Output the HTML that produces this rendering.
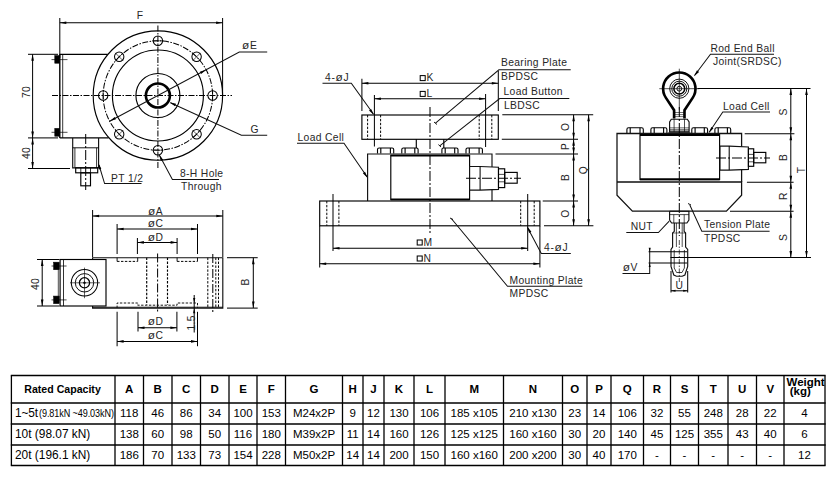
<!DOCTYPE html>
<html><head><meta charset="utf-8"><title>Load cell dimensions</title>
<style>
html,body{margin:0;padding:0;background:#fff}
body{width:836px;height:479px;position:relative;overflow:hidden;font-family:"Liberation Sans",sans-serif}
svg{position:absolute;left:0;top:0}
svg text{font-family:"Liberation Sans",sans-serif}
.c{position:absolute;text-align:center;font-size:11.5px;color:#000;white-space:nowrap;box-sizing:border-box;margin-top:-0.4px}
.c span{display:inline-block}
.h{font-weight:bold;font-size:11.5px;margin-top:0.2px}
.l{text-align:left;padding-left:3.6px;font-size:11.9px}
.w{line-height:8.2px !important;padding-top:2.8px;padding-left:2.5px;font-size:11.5px;text-align:left}
.r1{letter-spacing:-0.1px}
.hs{transform:scaleX(0.92);position:relative;left:-1.1px}
.sm{font-size:10.6px;transform:scaleX(0.855);transform-origin:0 50%;margin-left:0.6px}
</style></head><body>
<svg width="836" height="479" viewBox="0 0 836 479">
<circle cx="157.9" cy="95.5" r="64.7" fill="none" stroke="#000" stroke-width="1.15"/>
<circle cx="157.9" cy="95.5" r="45.5" fill="none" stroke="#000" stroke-width="1.15"/>
<circle cx="157.9" cy="95.5" r="54.7" fill="none" stroke="#000" stroke-width="1.01" stroke-dasharray="6 1.5 1.5 1.5"/>
<circle cx="157.9" cy="95.5" r="22" fill="none" stroke="#000" stroke-width="1.15"/>
<circle cx="157.9" cy="95.5" r="12" fill="none" stroke="#000" stroke-width="2.64"/>
<circle cx="157.9" cy="150.2" r="4.7" fill="none" stroke="#000" stroke-width="1.03"/>
<line x1="163.5" y1="150.2" x2="152.3" y2="150.2" stroke="#000" stroke-width="0.63"/>
<circle cx="119.2" cy="134.2" r="4.7" fill="none" stroke="#000" stroke-width="1.03"/>
<line x1="123.2" y1="138.1" x2="115.3" y2="130.2" stroke="#000" stroke-width="0.63"/>
<line x1="123.2" y1="130.2" x2="115.3" y2="138.1" stroke="#000" stroke-width="0.63"/>
<circle cx="103.2" cy="95.5" r="4.7" fill="none" stroke="#000" stroke-width="1.03"/>
<line x1="103.2" y1="101.1" x2="103.2" y2="89.9" stroke="#000" stroke-width="0.63"/>
<circle cx="119.2" cy="56.8" r="4.7" fill="none" stroke="#000" stroke-width="1.03"/>
<line x1="115.3" y1="60.8" x2="123.2" y2="52.9" stroke="#000" stroke-width="0.63"/>
<line x1="123.2" y1="60.8" x2="115.3" y2="52.9" stroke="#000" stroke-width="0.63"/>
<circle cx="157.9" cy="40.8" r="4.7" fill="none" stroke="#000" stroke-width="1.03"/>
<line x1="152.3" y1="40.8" x2="163.5" y2="40.8" stroke="#000" stroke-width="0.63"/>
<circle cx="196.6" cy="56.8" r="4.7" fill="none" stroke="#000" stroke-width="1.03"/>
<line x1="192.6" y1="52.9" x2="200.5" y2="60.8" stroke="#000" stroke-width="0.63"/>
<line x1="192.6" y1="60.8" x2="200.5" y2="52.9" stroke="#000" stroke-width="0.63"/>
<circle cx="212.6" cy="95.5" r="4.7" fill="none" stroke="#000" stroke-width="1.03"/>
<line x1="212.6" y1="89.9" x2="212.6" y2="101.1" stroke="#000" stroke-width="0.63"/>
<circle cx="196.6" cy="134.2" r="4.7" fill="none" stroke="#000" stroke-width="1.03"/>
<line x1="200.5" y1="130.2" x2="192.6" y2="138.1" stroke="#000" stroke-width="0.63"/>
<line x1="192.6" y1="130.2" x2="200.5" y2="138.1" stroke="#000" stroke-width="0.63"/>
<line x1="52" y1="95.5" x2="232" y2="95.5" stroke="#000" stroke-width="1.01" stroke-dasharray="6 1.5 1.5 1.5"/>
<line x1="157.9" y1="25.5" x2="157.9" y2="169" stroke="#000" stroke-width="1.01" stroke-dasharray="6 1.5 1.5 1.5"/>
<line x1="59.8" y1="18" x2="59.8" y2="58" stroke="#000" stroke-width="1.01"/>
<line x1="222.6" y1="18" x2="222.6" y2="95" stroke="#000" stroke-width="1.01"/>
<line x1="59.8" y1="22.8" x2="222.6" y2="22.8" stroke="#000" stroke-width="1.01"/>
<polygon points="59.80,22.80 66.30,21.50 66.30,24.10" fill="#000"/>
<polygon points="222.60,22.80 216.10,24.10 216.10,21.50" fill="#000"/>
<text x="140" y="19" font-size="10.3" text-anchor="middle" letter-spacing="0.35" font-weight="normal" fill="#262626">F</text>
<line x1="59.8" y1="54.3" x2="107.6" y2="54.3" stroke="#000" stroke-width="1.15"/>
<line x1="59.8" y1="137.9" x2="108.6" y2="137.9" stroke="#000" stroke-width="1.15"/>
<line x1="59.8" y1="54.3" x2="59.8" y2="137.9" stroke="#000" stroke-width="1.38"/>
<line x1="62.7" y1="54.3" x2="62.7" y2="137.9" stroke="#000" stroke-width="0.80"/>
<rect x="54.8" y="55.6" width="4.600000000000001" height="7.600000000000001" fill="#000" stroke="#000" stroke-width="0.57"/>
<rect x="54.8" y="128.4" width="4.600000000000001" height="7.799999999999983" fill="#000" stroke="#000" stroke-width="0.57"/>
<line x1="51.5" y1="59.6" x2="67.5" y2="59.6" stroke="#000" stroke-width="0.69"/>
<line x1="51.5" y1="132.3" x2="67.5" y2="132.3" stroke="#000" stroke-width="0.69"/>
<line x1="28" y1="54.3" x2="58" y2="54.3" stroke="#000" stroke-width="1.01"/>
<line x1="28" y1="137.9" x2="58" y2="137.9" stroke="#000" stroke-width="1.01"/>
<line x1="28" y1="168.4" x2="70" y2="168.4" stroke="#000" stroke-width="1.01"/>
<line x1="32.6" y1="54.3" x2="32.6" y2="137.9" stroke="#000" stroke-width="1.01"/>
<polygon points="32.60,54.30 33.90,60.80 31.30,60.80" fill="#000"/>
<polygon points="32.60,137.90 31.30,131.40 33.90,131.40" fill="#000"/>
<line x1="32.6" y1="137.9" x2="32.6" y2="168.4" stroke="#000" stroke-width="1.01"/>
<polygon points="32.60,137.90 33.90,144.40 31.30,144.40" fill="#000"/>
<polygon points="32.60,168.40 31.30,161.90 33.90,161.90" fill="#000"/>
<text x="30" y="92" font-size="10.3" text-anchor="middle" letter-spacing="0.35" font-weight="normal" fill="#262626" transform="rotate(-90 30 92)">70</text>
<text x="30" y="153" font-size="10.3" text-anchor="middle" letter-spacing="0.35" font-weight="normal" fill="#262626" transform="rotate(-90 30 153)">40</text>
<polyline points="72.7,137.9 72.7,167.8 98.6,167.8 98.6,137.9" fill="none" stroke="#111" stroke-width="1.15"/>
<line x1="72.7" y1="147.8" x2="98.6" y2="147.8" stroke="#000" stroke-width="0.92"/>
<line x1="74.9" y1="147.8" x2="74.9" y2="167.8" stroke="#000" stroke-width="0.80"/>
<line x1="96.6" y1="147.8" x2="96.6" y2="167.8" stroke="#000" stroke-width="0.80"/>
<rect x="75.7" y="167.8" width="22.0" height="5.0" fill="none" stroke="#000" stroke-width="1.15"/>
<line x1="80.8" y1="167.8" x2="80.8" y2="172.8" stroke="#000" stroke-width="0.80"/>
<line x1="90.5" y1="167.8" x2="90.5" y2="172.8" stroke="#000" stroke-width="0.80"/>
<rect x="80.8" y="172.8" width="9.700000000000003" height="13.0" fill="none" stroke="#000" stroke-width="1.15"/>
<line x1="85.7" y1="134" x2="85.7" y2="190" stroke="#000" stroke-width="1.01" stroke-dasharray="10 2 2 2"/>
<polyline points="99,165 104.6,183.6 141.5,183.6" fill="none" stroke="#111" stroke-width="1.01"/>
<polygon points="98.50,163.40 101.31,168.84 99.00,169.50" fill="#000"/>
<text x="111" y="181.5" font-size="10.3" text-anchor="start" letter-spacing="0.35" font-weight="normal" fill="#262626">PT 1/2</text>
<polyline points="109.6,121.2 239.3,52.1 267.2,52.1" fill="none" stroke="#111" stroke-width="1.01"/>
<polygon points="206.20,69.80 201.08,74.01 199.85,71.71" fill="#000"/>
<polygon points="109.60,121.20 114.72,116.99 115.95,119.29" fill="#000"/>
<text x="242" y="49.4" font-size="10.3" text-anchor="start" letter-spacing="0.35" font-weight="normal" fill="#262626"><tspan font-size="11.8" letter-spacing="0.7">ø</tspan>E</text>
<polyline points="170.4,102.7 241.4,135.3 267.2,135.3" fill="none" stroke="#111" stroke-width="1.01"/>
<polygon points="169.60,102.30 176.05,103.84 174.96,106.20" fill="#000"/>
<text x="250.6" y="132.8" font-size="10.3" text-anchor="start" letter-spacing="0.35" font-weight="normal" fill="#262626">G</text>
<polyline points="159.3,155 172.4,179.6 219,179.6" fill="none" stroke="#111" stroke-width="1.01"/>
<polygon points="159.00,154.60 163.20,159.73 160.90,160.95" fill="#000"/>
<text x="180" y="177.4" font-size="10.3" text-anchor="start" letter-spacing="0.35" font-weight="normal" fill="#262626">8-H  Hole</text>
<text x="181" y="189.5" font-size="10.3" text-anchor="start" letter-spacing="0.35" font-weight="normal" fill="#262626">Through</text>
<line x1="92.6" y1="210" x2="92.6" y2="257" stroke="#000" stroke-width="1.01"/>
<line x1="222.8" y1="210" x2="222.8" y2="257" stroke="#000" stroke-width="1.01"/>
<line x1="92.6" y1="216" x2="222.8" y2="216" stroke="#000" stroke-width="1.01"/>
<polygon points="92.60,216.00 99.10,214.70 99.10,217.30" fill="#000"/>
<polygon points="222.80,216.00 216.30,217.30 216.30,214.70" fill="#000"/>
<text x="155.5" y="214.6" font-size="10.3" text-anchor="middle" letter-spacing="0.35" font-weight="normal" fill="#262626"><tspan font-size="11.8" letter-spacing="0.7">ø</tspan>A</text>
<line x1="117.1" y1="224" x2="117.1" y2="254" stroke="#000" stroke-width="1.01"/>
<line x1="197.5" y1="224" x2="197.5" y2="254" stroke="#000" stroke-width="1.01"/>
<line x1="117.1" y1="229" x2="197.5" y2="229" stroke="#000" stroke-width="1.01"/>
<polygon points="117.10,229.00 123.60,227.70 123.60,230.30" fill="#000"/>
<polygon points="197.50,229.00 191.00,230.30 191.00,227.70" fill="#000"/>
<text x="155.5" y="227.4" font-size="10.3" text-anchor="middle" letter-spacing="0.35" font-weight="normal" fill="#262626"><tspan font-size="11.8" letter-spacing="0.7">ø</tspan>C</text>
<line x1="137.4" y1="238" x2="137.4" y2="254" stroke="#000" stroke-width="1.01"/>
<line x1="177.1" y1="238" x2="177.1" y2="254" stroke="#000" stroke-width="1.01"/>
<line x1="137.4" y1="242.4" x2="177.1" y2="242.4" stroke="#000" stroke-width="1.01"/>
<polygon points="137.40,242.40 143.90,241.10 143.90,243.70" fill="#000"/>
<polygon points="177.10,242.40 170.60,243.70 170.60,241.10" fill="#000"/>
<text x="155.5" y="240.8" font-size="10.3" text-anchor="middle" letter-spacing="0.35" font-weight="normal" fill="#262626"><tspan font-size="11.8" letter-spacing="0.7">ø</tspan>D</text>
<polyline points="92.6,259.5 92.6,257.7 222.8,257.7 222.8,308.2 92.6,308.2 92.6,306" fill="none" stroke="#111" stroke-width="1.15"/>
<rect x="60.1" y="259.5" width="45.9" height="46.5" fill="none" stroke="#000" stroke-width="1.15"/>
<line x1="63.5" y1="259.5" x2="63.5" y2="306" stroke="#000" stroke-width="0.80"/>
<line x1="92.6" y1="307.2" x2="222.9" y2="307.2" stroke="#000" stroke-width="1.15"/>
<line x1="58.3" y1="268" x2="58.3" y2="297" stroke="#000" stroke-width="0.69"/>
<circle cx="84.5" cy="282.8" r="13.2" fill="none" stroke="#000" stroke-width="1.03"/>
<circle cx="84.5" cy="282.8" r="9.2" fill="none" stroke="#000" stroke-width="0.92"/>
<circle cx="84.5" cy="282.8" r="5.1" fill="none" stroke="#000" stroke-width="1.26"/>
<circle cx="84.5" cy="282.8" r="0.9" fill="#000" stroke="#000" stroke-width="0.80"/>
<line x1="70" y1="282.8" x2="100" y2="282.8" stroke="#000" stroke-width="0.63"/>
<line x1="84.5" y1="267.6" x2="84.5" y2="298.2" stroke="#000" stroke-width="0.63"/>
<rect x="53.7" y="262.2" width="5.5" height="7.5" fill="#000" stroke="#000" stroke-width="0.57"/>
<rect x="53.7" y="296.1" width="5.5" height="7.5" fill="#000" stroke="#000" stroke-width="0.57"/>
<line x1="51.5" y1="266" x2="66.6" y2="266" stroke="#000" stroke-width="0.69"/>
<line x1="51.5" y1="299.9" x2="66.6" y2="299.9" stroke="#000" stroke-width="0.69"/>
<line x1="37" y1="259.5" x2="59.5" y2="259.5" stroke="#000" stroke-width="1.01"/>
<line x1="37" y1="306" x2="59.5" y2="306" stroke="#000" stroke-width="1.01"/>
<line x1="42.2" y1="259.5" x2="42.2" y2="306" stroke="#000" stroke-width="1.01"/>
<polygon points="42.20,259.50 43.50,266.00 40.90,266.00" fill="#000"/>
<polygon points="42.20,306.00 40.90,299.50 43.50,299.50" fill="#000"/>
<text x="39.2" y="284" font-size="10.3" text-anchor="middle" letter-spacing="0.35" font-weight="normal" fill="#262626" transform="rotate(-90 39.2 284)">40</text>
<line x1="227" y1="257.7" x2="257.7" y2="257.7" stroke="#000" stroke-width="1.01"/>
<line x1="227" y1="308.1" x2="257.7" y2="308.1" stroke="#000" stroke-width="1.01"/>
<line x1="253.3" y1="257.7" x2="253.3" y2="308.1" stroke="#000" stroke-width="1.01"/>
<polygon points="253.30,257.70 254.60,264.20 252.00,264.20" fill="#000"/>
<polygon points="253.30,308.10 252.00,301.60 254.60,301.60" fill="#000"/>
<text x="249.4" y="282" font-size="10.3" text-anchor="middle" letter-spacing="0.35" font-weight="normal" fill="#262626" transform="rotate(-90 249.4 282)">B</text>
<line x1="157.6" y1="253.5" x2="157.6" y2="312" stroke="#000" stroke-width="1.01" stroke-dasharray="9 2 2 2"/>
<line x1="146.7" y1="257.7" x2="146.7" y2="305" stroke="#000" stroke-width="1.15" stroke-dasharray="2.4 1.5"/>
<line x1="167.5" y1="257.7" x2="167.5" y2="305" stroke="#000" stroke-width="1.15" stroke-dasharray="2.4 1.5"/>
<line x1="117.1" y1="261.4" x2="137.7" y2="261.4" stroke="#000" stroke-width="0.98" stroke-dasharray="2.4 1.5"/>
<line x1="177.1" y1="261.4" x2="197.5" y2="261.4" stroke="#000" stroke-width="0.98" stroke-dasharray="2.4 1.5"/>
<line x1="117.1" y1="257.7" x2="117.1" y2="261.4" stroke="#000" stroke-width="0.92"/>
<line x1="137.7" y1="257.7" x2="137.7" y2="261.4" stroke="#000" stroke-width="0.92"/>
<line x1="177.1" y1="257.7" x2="177.1" y2="261.4" stroke="#000" stroke-width="0.92"/>
<line x1="197.5" y1="257.7" x2="197.5" y2="261.4" stroke="#000" stroke-width="0.92"/>
<polyline points="117.1,308 117.1,303 137.7,303 137.7,305.2 177.1,305.2 177.1,303 197.5,303 197.5,308" fill="none" stroke="#111" stroke-width="0.98" stroke-dasharray="2.4 1.5"/>
<line x1="207.8" y1="257.7" x2="207.8" y2="308" stroke="#000" stroke-width="0.98" stroke-dasharray="2.4 1.5"/>
<line x1="215.8" y1="257.7" x2="215.8" y2="308" stroke="#000" stroke-width="0.98" stroke-dasharray="2.4 1.5"/>
<line x1="218.5" y1="257.7" x2="218.5" y2="308" stroke="#000" stroke-width="0.98" stroke-dasharray="2.4 1.5"/>
<line x1="212.8" y1="254" x2="212.8" y2="312" stroke="#000" stroke-width="1.01" stroke-dasharray="9 2 2 2"/>
<line x1="138" y1="311.8" x2="138" y2="331.5" stroke="#000" stroke-width="1.01"/>
<line x1="176.9" y1="311.8" x2="176.9" y2="331.5" stroke="#000" stroke-width="1.01"/>
<line x1="138" y1="327.8" x2="176.9" y2="327.8" stroke="#000" stroke-width="1.01"/>
<polygon points="138.00,327.80 144.50,326.50 144.50,329.10" fill="#000"/>
<polygon points="176.90,327.80 170.40,329.10 170.40,326.50" fill="#000"/>
<text x="155.5" y="325" font-size="10.3" text-anchor="middle" letter-spacing="0.35" font-weight="normal" fill="#262626"><tspan font-size="11.8" letter-spacing="0.7">ø</tspan>D</text>
<line x1="117.1" y1="311.8" x2="117.1" y2="346.2" stroke="#000" stroke-width="1.01"/>
<line x1="197.5" y1="311.8" x2="197.5" y2="346.2" stroke="#000" stroke-width="1.01"/>
<line x1="117.1" y1="341.4" x2="197.5" y2="341.4" stroke="#000" stroke-width="1.01"/>
<polygon points="117.10,341.40 123.60,340.10 123.60,342.70" fill="#000"/>
<polygon points="197.50,341.40 191.00,342.70 191.00,340.10" fill="#000"/>
<text x="155.5" y="339.4" font-size="10.3" text-anchor="middle" letter-spacing="0.35" font-weight="normal" fill="#262626"><tspan font-size="11.8" letter-spacing="0.7">ø</tspan>C</text>
<line x1="194.2" y1="295" x2="194.2" y2="332.6" stroke="#000" stroke-width="1.01"/>
<polygon points="194.20,303.00 193.10,298.00 195.30,298.00" fill="#000"/>
<polygon points="194.20,308.20 195.30,313.20 193.10,313.20" fill="#000"/>
<text x="194.6" y="322.8" font-size="10.3" text-anchor="middle" letter-spacing="0.35" font-weight="normal" fill="#262626" transform="rotate(-90 194.6 322.8)">1.5</text>
<rect x="361.9" y="115" width="136.40000000000003" height="24.30000000000001" fill="none" stroke="#000" stroke-width="1.15"/>
<line x1="367.6" y1="115" x2="367.6" y2="139.3" stroke="#000" stroke-width="0.98" stroke-dasharray="2.4 1.5"/>
<line x1="380.6" y1="115" x2="380.6" y2="139.3" stroke="#000" stroke-width="0.98" stroke-dasharray="2.4 1.5"/>
<line x1="479.2" y1="115" x2="479.2" y2="139.3" stroke="#000" stroke-width="0.98" stroke-dasharray="2.4 1.5"/>
<line x1="491.8" y1="115" x2="491.8" y2="139.3" stroke="#000" stroke-width="0.98" stroke-dasharray="2.4 1.5"/>
<line x1="374.4" y1="95" x2="374.4" y2="146.5" stroke="#000" stroke-width="1.01"/>
<line x1="485.6" y1="94" x2="485.6" y2="147" stroke="#000" stroke-width="1.01"/>
<line x1="361.9" y1="78.8" x2="361.9" y2="111" stroke="#000" stroke-width="1.01"/>
<line x1="498.3" y1="71" x2="498.3" y2="111" stroke="#000" stroke-width="1.01"/>
<line x1="361.9" y1="83.3" x2="498.3" y2="83.3" stroke="#000" stroke-width="1.01"/>
<polygon points="361.90,83.30 368.40,82.00 368.40,84.60" fill="#000"/>
<polygon points="498.30,83.30 491.80,84.60 491.80,82.00" fill="#000"/>
<line x1="374.4" y1="98.8" x2="485.6" y2="98.8" stroke="#000" stroke-width="1.01"/>
<polygon points="374.40,98.80 380.90,97.50 380.90,100.10" fill="#000"/>
<polygon points="485.60,98.80 479.10,100.10 479.10,97.50" fill="#000"/>
<rect x="420.2" y="75.6" width="5.0" height="5.0" fill="none" stroke="#000" stroke-width="1.03"/>
<text x="426.5" y="81.2" font-size="10.3" text-anchor="start" letter-spacing="0.35" font-weight="normal" fill="#262626">K</text>
<rect x="420.2" y="91.4" width="5.0" height="5.0" fill="none" stroke="#000" stroke-width="1.03"/>
<text x="426.5" y="97" font-size="10.3" text-anchor="start" letter-spacing="0.35" font-weight="normal" fill="#262626">L</text>
<text x="325" y="80.5" font-size="10.3" text-anchor="start" letter-spacing="0.7" font-weight="normal" fill="#262626">4-<tspan font-size="11.8" letter-spacing="0.7">ø</tspan>J</text>
<polyline points="322.5,83.2 351.3,83.2 373.4,114" fill="none" stroke="#111" stroke-width="1.01"/>
<polygon points="373.90,115.00 369.03,110.51 371.13,108.98" fill="#000"/>
<line x1="430" y1="107" x2="430" y2="233" stroke="#000" stroke-width="1.01" stroke-dasharray="10 2 2 2"/>
<line x1="416.3" y1="139.3" x2="416.3" y2="148" stroke="#000" stroke-width="1.15"/>
<line x1="443.8" y1="139.3" x2="443.8" y2="148" stroke="#000" stroke-width="1.15"/>
<path d="M377.5,153.4 L377.5,149.6 Q377.5,148 379.1,148 L392.09999999999997,148 Q393.7,148 393.7,149.6 L393.7,153.4" fill="none" stroke="#000" stroke-width="1.1"/>
<line x1="380.8" y1="148" x2="380.8" y2="153.4" stroke="#000" stroke-width="1.14"/>
<line x1="390.4" y1="148" x2="390.4" y2="153.4" stroke="#000" stroke-width="1.14"/>
<path d="M401.8,153.4 L401.8,149.6 Q401.8,148 403.40000000000003,148 L416.5,148 Q418.1,148 418.1,149.6 L418.1,153.4" fill="none" stroke="#000" stroke-width="1.1"/>
<line x1="405.1" y1="148" x2="405.1" y2="153.4" stroke="#000" stroke-width="1.14"/>
<line x1="414.8" y1="148" x2="414.8" y2="153.4" stroke="#000" stroke-width="1.14"/>
<path d="M441.9,153.4 L441.9,149.6 Q441.9,148 443.5,148 L456.4,148 Q458,148 458,149.6 L458,153.4" fill="none" stroke="#000" stroke-width="1.1"/>
<line x1="445.2" y1="148" x2="445.2" y2="153.4" stroke="#000" stroke-width="1.14"/>
<line x1="454.7" y1="148" x2="454.7" y2="153.4" stroke="#000" stroke-width="1.14"/>
<path d="M466,153.4 L466,149.6 Q466,148 467.6,148 L480.79999999999995,148 Q482.4,148 482.4,149.6 L482.4,153.4" fill="none" stroke="#000" stroke-width="1.1"/>
<line x1="469.3" y1="148" x2="469.3" y2="153.4" stroke="#000" stroke-width="1.14"/>
<line x1="479.09999999999997" y1="148" x2="479.09999999999997" y2="153.4" stroke="#000" stroke-width="1.14"/>
<polyline points="367.6,201 367.6,154 492,154 492,201" fill="none" stroke="#111" stroke-width="1.15"/>
<rect x="390.8" y="155.4" width="78.80000000000001" height="44.19999999999999" fill="none" stroke="#000" stroke-width="1.15"/>
<line x1="390.8" y1="155.6" x2="469.6" y2="155.6" stroke="#000" stroke-width="1.72"/>
<line x1="390.8" y1="199.4" x2="469.6" y2="199.4" stroke="#000" stroke-width="1.72"/>
<polygon points="469.6,166.5 480.1,166.5 498.5,167.2 498.5,189.4 480.1,190.1 469.6,190.1" fill="#fff" stroke="#111" stroke-width="1.15"/>
<line x1="480.1" y1="166.5" x2="480.1" y2="190.1" stroke="#000" stroke-width="1.03"/>
<rect x="498.5" y="168.8" width="6.199999999999989" height="18.799999999999983" fill="#fff" stroke="#000" stroke-width="1.15"/>
<line x1="498.5" y1="174.4" x2="504.7" y2="174.4" stroke="#000" stroke-width="0.69"/>
<line x1="498.5" y1="181.8" x2="504.7" y2="181.8" stroke="#000" stroke-width="0.69"/>
<rect x="504.7" y="172.4" width="12.500000000000057" height="10.799999999999983" fill="none" stroke="#000" stroke-width="1.15"/>
<line x1="466" y1="178.2" x2="521" y2="178.2" stroke="#000" stroke-width="1.01" stroke-dasharray="10 2 2 2"/>
<rect x="319.7" y="201" width="220.2" height="24.80000000000001" fill="none" stroke="#000" stroke-width="1.15"/>
<line x1="326.8" y1="201" x2="326.8" y2="225.8" stroke="#000" stroke-width="0.98" stroke-dasharray="2.4 1.5"/>
<line x1="338.9" y1="201" x2="338.9" y2="225.8" stroke="#000" stroke-width="0.98" stroke-dasharray="2.4 1.5"/>
<line x1="520.7" y1="201" x2="520.7" y2="225.8" stroke="#000" stroke-width="0.98" stroke-dasharray="2.4 1.5"/>
<line x1="534.2" y1="201" x2="534.2" y2="225.8" stroke="#000" stroke-width="0.98" stroke-dasharray="2.4 1.5"/>
<line x1="333" y1="194" x2="333" y2="251" stroke="#000" stroke-width="1.01"/>
<line x1="527.7" y1="194" x2="527.7" y2="251" stroke="#000" stroke-width="1.01"/>
<line x1="319.7" y1="226" x2="319.7" y2="267.5" stroke="#000" stroke-width="1.01"/>
<line x1="539.9" y1="226" x2="539.9" y2="267.5" stroke="#000" stroke-width="1.01"/>
<line x1="333" y1="248.2" x2="527.7" y2="248.2" stroke="#000" stroke-width="1.01"/>
<polygon points="333.00,248.20 339.50,246.90 339.50,249.50" fill="#000"/>
<polygon points="527.70,248.20 521.20,249.50 521.20,246.90" fill="#000"/>
<line x1="319.7" y1="263.8" x2="539.9" y2="263.8" stroke="#000" stroke-width="1.01"/>
<polygon points="319.70,263.80 326.20,262.50 326.20,265.10" fill="#000"/>
<polygon points="539.90,263.80 533.40,265.10 533.40,262.50" fill="#000"/>
<rect x="417.2" y="240" width="5.0" height="5" fill="none" stroke="#000" stroke-width="1.03"/>
<text x="423.6" y="245.6" font-size="10.3" text-anchor="start" letter-spacing="0.35" font-weight="normal" fill="#262626">M</text>
<rect x="417.2" y="256" width="5.0" height="5" fill="none" stroke="#000" stroke-width="1.03"/>
<text x="423.6" y="261.5" font-size="10.3" text-anchor="start" letter-spacing="0.35" font-weight="normal" fill="#262626">N</text>
<text x="297.5" y="140.6" font-size="10.3" text-anchor="start" letter-spacing="0.35" font-weight="normal" fill="#262626">Load Cell</text>
<polyline points="297,143.2 344,143.2 367.2,177" fill="none" stroke="#111" stroke-width="1.01"/>
<polygon points="367.60,177.90 362.89,173.24 365.04,171.78" fill="#000"/>
<text x="501" y="66.3" font-size="10.3" text-anchor="start" letter-spacing="0.35" font-weight="normal" fill="#262626">Bearing Plate</text>
<text x="501" y="79.8" font-size="10.3" text-anchor="start" letter-spacing="0.35" font-weight="normal" fill="#262626">BPDSC</text>
<polyline points="570.7,69.8 498.9,69.8 435.5,123.2" fill="none" stroke="#111" stroke-width="1.01"/>
<line x1="434" y1="122" x2="437" y2="124.5" stroke="#000" stroke-width="0.92"/>
<text x="503.5" y="95" font-size="10.3" text-anchor="start" letter-spacing="0.35" font-weight="normal" fill="#262626">Load Button</text>
<text x="504" y="108.6" font-size="10.3" text-anchor="start" letter-spacing="0.35" font-weight="normal" fill="#262626">LBDSC</text>
<polyline points="569.3,98.6 499.7,98.6 439.7,145.8" fill="none" stroke="#111" stroke-width="1.01"/>
<line x1="438.4" y1="144.6" x2="441" y2="147" stroke="#000" stroke-width="0.92"/>
<polyline points="451.5,218.7 507.5,286.2 582.4,286.2" fill="none" stroke="#111" stroke-width="1.01"/>
<line x1="450" y1="218" x2="453" y2="219.5" stroke="#000" stroke-width="0.92"/>
<text x="509.5" y="284.4" font-size="10.3" text-anchor="start" letter-spacing="0.35" font-weight="normal" fill="#262626">Mounting Plate</text>
<text x="509.5" y="297.3" font-size="10.3" text-anchor="start" letter-spacing="0.35" font-weight="normal" fill="#262626">MPDSC</text>
<text x="544" y="251" font-size="10.3" text-anchor="start" letter-spacing="0.7" font-weight="normal" fill="#262626">4-<tspan font-size="11.8" letter-spacing="0.7">ø</tspan>J</text>
<polyline points="570.8,253.5 541.3,253.5 527.5,227.5" fill="none" stroke="#111" stroke-width="1.01"/>
<polygon points="527.20,226.60 531.40,231.73 529.10,232.95" fill="#000"/>
<line x1="502.3" y1="114.8" x2="593.2" y2="114.8" stroke="#000" stroke-width="1.01"/>
<line x1="501.8" y1="139.2" x2="578" y2="139.2" stroke="#000" stroke-width="1.01"/>
<line x1="495.5" y1="154" x2="578" y2="154" stroke="#000" stroke-width="1.01"/>
<line x1="542.7" y1="201" x2="578" y2="201" stroke="#000" stroke-width="1.01"/>
<line x1="544" y1="225.8" x2="593.4" y2="225.8" stroke="#000" stroke-width="1.01"/>
<line x1="573.6" y1="114.8" x2="573.6" y2="139.2" stroke="#000" stroke-width="1.01"/>
<polygon points="573.60,114.80 574.90,121.30 572.30,121.30" fill="#000"/>
<polygon points="573.60,139.20 572.30,132.70 574.90,132.70" fill="#000"/>
<line x1="573.6" y1="139.2" x2="573.6" y2="154" stroke="#000" stroke-width="1.01"/>
<polygon points="573.60,139.20 574.90,145.70 572.30,145.70" fill="#000"/>
<polygon points="573.60,154.00 572.30,147.50 574.90,147.50" fill="#000"/>
<line x1="573.6" y1="154" x2="573.6" y2="201" stroke="#000" stroke-width="1.01"/>
<polygon points="573.60,154.00 574.90,160.50 572.30,160.50" fill="#000"/>
<polygon points="573.60,201.00 572.30,194.50 574.90,194.50" fill="#000"/>
<line x1="573.6" y1="201" x2="573.6" y2="225.8" stroke="#000" stroke-width="1.01"/>
<polygon points="573.60,201.00 574.90,207.50 572.30,207.50" fill="#000"/>
<polygon points="573.60,225.80 572.30,219.30 574.90,219.30" fill="#000"/>
<line x1="588.6" y1="114.8" x2="588.6" y2="225.8" stroke="#000" stroke-width="1.01"/>
<polygon points="588.60,114.80 589.90,121.30 587.30,121.30" fill="#000"/>
<polygon points="588.60,225.80 587.30,219.30 589.90,219.30" fill="#000"/>
<text x="569" y="126.8" font-size="10.3" text-anchor="middle" letter-spacing="0.35" font-weight="normal" fill="#262626" transform="rotate(-90 569 126.8)">O</text>
<text x="569" y="146.5" font-size="10.3" text-anchor="middle" letter-spacing="0.35" font-weight="normal" fill="#262626" transform="rotate(-90 569 146.5)">P</text>
<text x="569" y="177.5" font-size="10.3" text-anchor="middle" letter-spacing="0.35" font-weight="normal" fill="#262626" transform="rotate(-90 569 177.5)">B</text>
<text x="569" y="213.6" font-size="10.3" text-anchor="middle" letter-spacing="0.35" font-weight="normal" fill="#262626" transform="rotate(-90 569 213.6)">O</text>
<text x="586.5" y="170" font-size="10.3" text-anchor="middle" letter-spacing="0.35" font-weight="normal" fill="#262626" transform="rotate(-90 586.5 170)">Q</text>
<path d="M674.0999999999999,118.6 L674.0999999999999,110.2 L665.79,97.64 A16.2,16.2 0 1 1 692.81,97.64 L684.5,110.2 L684.5,118.6" fill="#fff" stroke="#000" stroke-width="2.64"/>
<circle cx="679.3" cy="88.7" r="9.6" fill="none" stroke="#000" stroke-width="0.92"/>
<circle cx="679.3" cy="88.7" r="7.5" fill="none" stroke="#000" stroke-width="0.92"/>
<circle cx="679.3" cy="88.7" r="5.4" fill="none" stroke="#000" stroke-width="1.49"/>
<circle cx="679.3" cy="88.7" r="2.4" fill="none" stroke="#000" stroke-width="0.92"/>
<line x1="659.3" y1="88.7" x2="699.3" y2="88.7" stroke="#000" stroke-width="0.69"/>
<line x1="679.3" y1="68.7" x2="679.3" y2="109.7" stroke="#000" stroke-width="0.69"/>
<line x1="674.0999999999999" y1="112.5" x2="684.5" y2="112.5" stroke="#000" stroke-width="0.57"/>
<line x1="674.0999999999999" y1="114.6" x2="684.5" y2="114.6" stroke="#000" stroke-width="0.57"/>
<line x1="674.0999999999999" y1="116.6" x2="684.5" y2="116.6" stroke="#000" stroke-width="0.57"/>
<polygon points="669.5999999999999,131.8 669.5999999999999,122 671.3,119.2 687.3,119.2 689.0999999999999,122 689.0999999999999,131.8" fill="#fff" stroke="#111" stroke-width="1.15"/>
<line x1="674.0999999999999" y1="119.2" x2="674.0999999999999" y2="131.8" stroke="#000" stroke-width="0.69"/>
<line x1="684.5" y1="119.2" x2="684.5" y2="131.8" stroke="#000" stroke-width="0.69"/>
<line x1="669.5999999999999" y1="127.8" x2="689.0999999999999" y2="127.8" stroke="#000" stroke-width="0.57"/>
<line x1="669.5999999999999" y1="129.4" x2="689.0999999999999" y2="129.4" stroke="#000" stroke-width="0.57"/>
<line x1="669.5999999999999" y1="130.8" x2="689.0999999999999" y2="130.8" stroke="#000" stroke-width="0.57"/>
<line x1="668.3" y1="133" x2="690.3" y2="133" stroke="#000" stroke-width="1.15"/>
<text x="710.5" y="52" font-size="10.3" text-anchor="start" letter-spacing="0.35" font-weight="normal" fill="#262626">Rod End Ball</text>
<text x="713" y="64.6" font-size="10.3" text-anchor="start" letter-spacing="0.35" font-weight="normal" fill="#262626">Joint(SRDSC)</text>
<polyline points="774,54.2 710.5,54.2 694.5,75.5" fill="none" stroke="#111" stroke-width="1.01"/>
<polygon points="694.00,76.20 697.03,70.30 699.06,71.92" fill="#000"/>
<line x1="697.5" y1="88.6" x2="810.5" y2="88.6" stroke="#000" stroke-width="1.01"/>
<text x="723" y="109.5" font-size="10.3" text-anchor="start" letter-spacing="0.35" font-weight="normal" fill="#262626">Load Cell</text>
<polyline points="770,112 722.8,112 709.2,132.2" fill="none" stroke="#111" stroke-width="1.01"/>
<polygon points="708.80,133.00 711.36,126.88 713.51,128.34" fill="#000"/>
<path d="M626.9,133.4 L626.9,129.4 Q626.9,127.8 628.5,127.8 L641.6999999999999,127.8 Q643.3,127.8 643.3,129.4 L643.3,133.4" fill="none" stroke="#000" stroke-width="1.1"/>
<line x1="630.1999999999999" y1="127.8" x2="630.1999999999999" y2="133.4" stroke="#000" stroke-width="1.14"/>
<line x1="640.0" y1="127.8" x2="640.0" y2="133.4" stroke="#000" stroke-width="1.14"/>
<path d="M650.9,133.4 L650.9,129.4 Q650.9,127.8 652.5,127.8 L665.3,127.8 Q666.9,127.8 666.9,129.4 L666.9,133.4" fill="none" stroke="#000" stroke-width="1.1"/>
<line x1="654.1999999999999" y1="127.8" x2="654.1999999999999" y2="133.4" stroke="#000" stroke-width="1.14"/>
<line x1="663.6" y1="127.8" x2="663.6" y2="133.4" stroke="#000" stroke-width="1.14"/>
<path d="M691.8,133.4 L691.8,129.4 Q691.8,127.8 693.4,127.8 L706.0,127.8 Q707.6,127.8 707.6,129.4 L707.6,133.4" fill="none" stroke="#000" stroke-width="1.1"/>
<line x1="695.0999999999999" y1="127.8" x2="695.0999999999999" y2="133.4" stroke="#000" stroke-width="1.14"/>
<line x1="704.3000000000001" y1="127.8" x2="704.3000000000001" y2="133.4" stroke="#000" stroke-width="1.14"/>
<path d="M714.9,133.4 L714.9,129.4 Q714.9,127.8 716.5,127.8 L729.1,127.8 Q730.7,127.8 730.7,129.4 L730.7,133.4" fill="none" stroke="#000" stroke-width="1.1"/>
<line x1="718.1999999999999" y1="127.8" x2="718.1999999999999" y2="133.4" stroke="#000" stroke-width="1.14"/>
<line x1="727.4000000000001" y1="127.8" x2="727.4000000000001" y2="133.4" stroke="#000" stroke-width="1.14"/>
<polyline points="617,182 617,133.5 741.6,133.5 741.6,182" fill="none" stroke="#111" stroke-width="1.26"/>
<rect x="640" y="134.6" width="79.60000000000002" height="45.0" fill="none" stroke="#000" stroke-width="1.15"/>
<line x1="640" y1="134.9" x2="719.6" y2="134.9" stroke="#000" stroke-width="1.95"/>
<line x1="640" y1="179.3" x2="719.6" y2="179.3" stroke="#000" stroke-width="1.95"/>
<polygon points="720,146.1 729.2,146.1 748.4,147 748.4,169.4 729.2,170.1 720,170.1" fill="#fff" stroke="#111" stroke-width="1.15"/>
<line x1="729.2" y1="146.1" x2="729.2" y2="170.1" stroke="#000" stroke-width="1.03"/>
<rect x="748.4" y="148.8" width="5.300000000000068" height="17.5" fill="#fff" stroke="#000" stroke-width="1.15"/>
<line x1="748.4" y1="154.4" x2="753.7" y2="154.4" stroke="#000" stroke-width="0.69"/>
<line x1="748.4" y1="161.8" x2="753.7" y2="161.8" stroke="#000" stroke-width="0.69"/>
<rect x="753.7" y="152.4" width="12.099999999999909" height="10.400000000000006" fill="none" stroke="#000" stroke-width="1.15"/>
<line x1="716" y1="158" x2="770" y2="158" stroke="#000" stroke-width="1.01" stroke-dasharray="10 2 2 2"/>
<polyline points="617,182 617,195.2 632.4,211.2 726.4,211.2 741.6,195.2 741.6,182 617,182" fill="none" stroke="#111" stroke-width="1.26"/>
<line x1="679.3" y1="107" x2="679.3" y2="236" stroke="#000" stroke-width="1.01" stroke-dasharray="10 2 2 2"/>
<polyline points="669.6,211.2 688.9,211.2 688.9,220 686.9,223 671.6,223 669.6,220 669.6,211.2" fill="none" stroke="#111" stroke-width="1.15"/>
<line x1="669.6" y1="214.6" x2="688.9" y2="214.6" stroke="#000" stroke-width="0.69"/>
<line x1="673.8" y1="214.6" x2="673.8" y2="223" stroke="#000" stroke-width="0.69"/>
<line x1="684.2" y1="214.6" x2="684.2" y2="223" stroke="#000" stroke-width="0.69"/>
<polyline points="674.3,223 674.3,231.3 672.6,233 672.6,247 671,249.5 671,266.5 673.8,275 676.5,276.2 682.2,276.2 684.9,275 687.7,266.5 687.7,249.5 685.6,247 685.6,233 684.1,231.3 684.1,223" fill="none" stroke="#111" stroke-width="1.15"/>
<line x1="676.4" y1="223" x2="676.4" y2="247" stroke="#000" stroke-width="0.69"/>
<line x1="682.2" y1="223" x2="682.2" y2="247" stroke="#000" stroke-width="0.69"/>
<line x1="672.6" y1="233" x2="685.6" y2="233" stroke="#000" stroke-width="0.57"/>
<polyline points="674.2,250 674.2,268 676.6,272.5 682,272.5 684.4,268 684.4,250" fill="none" stroke="#111" stroke-width="0.80"/>
<line x1="679.3" y1="240" x2="679.3" y2="282" stroke="#000" stroke-width="0.69" stroke-dasharray="5 1.5 1.5 1.5"/>
<text x="630.7" y="230.4" font-size="10.3" text-anchor="start" letter-spacing="0.35" font-weight="normal" fill="#262626">NUT</text>
<polyline points="626.3,232.5 658.4,232.5 669.2,221.2" fill="none" stroke="#111" stroke-width="1.01"/>
<text x="704" y="228.4" font-size="10.3" text-anchor="start" letter-spacing="0.35" font-weight="normal" fill="#262626">Tension Plate</text>
<text x="704" y="241.8" font-size="10.3" text-anchor="start" letter-spacing="0.35" font-weight="normal" fill="#262626">TPDSC</text>
<polyline points="769.6,231.2 701.8,231.2 689.8,205" fill="none" stroke="#111" stroke-width="1.01"/>
<line x1="688" y1="203.5" x2="691" y2="205" stroke="#000" stroke-width="0.92"/>
<line x1="744.7" y1="133.8" x2="794.4" y2="133.8" stroke="#000" stroke-width="1.01"/>
<line x1="746.9" y1="182.3" x2="793.6" y2="182.3" stroke="#000" stroke-width="1.01"/>
<line x1="730" y1="211.2" x2="793.6" y2="211.2" stroke="#000" stroke-width="1.01"/>
<line x1="670.5" y1="257.4" x2="811" y2="257.4" stroke="#000" stroke-width="1.01"/>
<line x1="790.8" y1="88.6" x2="790.8" y2="133.8" stroke="#000" stroke-width="1.01"/>
<polygon points="790.80,88.60 792.10,95.10 789.50,95.10" fill="#000"/>
<polygon points="790.80,133.80 789.50,127.30 792.10,127.30" fill="#000"/>
<line x1="790.8" y1="133.8" x2="790.8" y2="182.3" stroke="#000" stroke-width="1.01"/>
<polygon points="790.80,133.80 792.10,140.30 789.50,140.30" fill="#000"/>
<polygon points="790.80,182.30 789.50,175.80 792.10,175.80" fill="#000"/>
<line x1="790.8" y1="182.3" x2="790.8" y2="211.2" stroke="#000" stroke-width="1.01"/>
<polygon points="790.80,182.30 792.10,188.80 789.50,188.80" fill="#000"/>
<polygon points="790.80,211.20 789.50,204.70 792.10,204.70" fill="#000"/>
<line x1="790.8" y1="211.2" x2="790.8" y2="257.4" stroke="#000" stroke-width="1.01"/>
<polygon points="790.80,211.20 792.10,217.70 789.50,217.70" fill="#000"/>
<polygon points="790.80,257.40 789.50,250.90 792.10,250.90" fill="#000"/>
<line x1="806.5" y1="88.6" x2="806.5" y2="257.4" stroke="#000" stroke-width="1.01"/>
<polygon points="806.50,88.60 807.80,95.10 805.20,95.10" fill="#000"/>
<polygon points="806.50,257.40 805.20,250.90 807.80,250.90" fill="#000"/>
<text x="786.5" y="112" font-size="10.3" text-anchor="middle" letter-spacing="0.35" font-weight="normal" fill="#262626" transform="rotate(-90 786.5 112)">S</text>
<text x="786.5" y="157.5" font-size="10.3" text-anchor="middle" letter-spacing="0.35" font-weight="normal" fill="#262626" transform="rotate(-90 786.5 157.5)">B</text>
<text x="786.5" y="196" font-size="10.3" text-anchor="middle" letter-spacing="0.35" font-weight="normal" fill="#262626" transform="rotate(-90 786.5 196)">R</text>
<text x="786.5" y="237.5" font-size="10.3" text-anchor="middle" letter-spacing="0.35" font-weight="normal" fill="#262626" transform="rotate(-90 786.5 237.5)">S</text>
<text x="804.5" y="170" font-size="10.3" text-anchor="middle" letter-spacing="0.35" font-weight="normal" fill="#262626" transform="rotate(-90 804.5 170)">T</text>
<text x="622.7" y="271" font-size="10.3" text-anchor="start" letter-spacing="0.35" font-weight="normal" fill="#262626"><tspan font-size="11.8" letter-spacing="0.7">ø</tspan>V</text>
<polyline points="622.5,273.6 649.7,273.6 649.7,248" fill="none" stroke="#111" stroke-width="1.01"/>
<line x1="648.6" y1="251.8" x2="687" y2="251.8" stroke="#000" stroke-width="1.01"/>
<line x1="648.6" y1="263" x2="687" y2="263" stroke="#000" stroke-width="1.01"/>
<polygon points="649.70,251.80 648.70,247.80 650.70,247.80" fill="#000"/>
<polygon points="649.70,263.00 650.70,267.00 648.70,267.00" fill="#000"/>
<line x1="671" y1="271" x2="671" y2="292.5" stroke="#000" stroke-width="1.01"/>
<line x1="687.7" y1="271" x2="687.7" y2="292.5" stroke="#000" stroke-width="1.01"/>
<line x1="671" y1="290.8" x2="687.7" y2="290.8" stroke="#000" stroke-width="1.01"/>
<polygon points="671.00,290.80 675.50,289.80 675.50,291.80" fill="#000"/>
<polygon points="687.70,290.80 683.20,291.80 683.20,289.80" fill="#000"/>
<text x="679.5" y="288.6" font-size="10.3" text-anchor="middle" letter-spacing="0.35" font-weight="normal" fill="#262626">U</text>
<line x1="11.4" y1="375.5" x2="11.4" y2="465.5" stroke="#000" stroke-width="1.3"/>
<line x1="115" y1="375.5" x2="115" y2="465.5" stroke="#000" stroke-width="1.3"/>
<line x1="143.5" y1="375.5" x2="143.5" y2="465.5" stroke="#000" stroke-width="1.3"/>
<line x1="172" y1="375.5" x2="172" y2="465.5" stroke="#000" stroke-width="1.3"/>
<line x1="200.5" y1="375.5" x2="200.5" y2="465.5" stroke="#000" stroke-width="1.3"/>
<line x1="229" y1="375.5" x2="229" y2="465.5" stroke="#000" stroke-width="1.3"/>
<line x1="257" y1="375.5" x2="257" y2="465.5" stroke="#000" stroke-width="1.3"/>
<line x1="285.5" y1="375.5" x2="285.5" y2="465.5" stroke="#000" stroke-width="1.3"/>
<line x1="342.5" y1="375.5" x2="342.5" y2="465.5" stroke="#000" stroke-width="1.3"/>
<line x1="363" y1="375.5" x2="363" y2="465.5" stroke="#000" stroke-width="1.3"/>
<line x1="384" y1="375.5" x2="384" y2="465.5" stroke="#000" stroke-width="1.3"/>
<line x1="414" y1="375.5" x2="414" y2="465.5" stroke="#000" stroke-width="1.3"/>
<line x1="445" y1="375.5" x2="445" y2="465.5" stroke="#000" stroke-width="1.3"/>
<line x1="503.5" y1="375.5" x2="503.5" y2="465.5" stroke="#000" stroke-width="1.3"/>
<line x1="562.5" y1="375.5" x2="562.5" y2="465.5" stroke="#000" stroke-width="1.3"/>
<line x1="587" y1="375.5" x2="587" y2="465.5" stroke="#000" stroke-width="1.3"/>
<line x1="611" y1="375.5" x2="611" y2="465.5" stroke="#000" stroke-width="1.3"/>
<line x1="643.5" y1="375.5" x2="643.5" y2="465.5" stroke="#000" stroke-width="1.3"/>
<line x1="670.5" y1="375.5" x2="670.5" y2="465.5" stroke="#000" stroke-width="1.3"/>
<line x1="698.5" y1="375.5" x2="698.5" y2="465.5" stroke="#000" stroke-width="1.3"/>
<line x1="728" y1="375.5" x2="728" y2="465.5" stroke="#000" stroke-width="1.3"/>
<line x1="756.5" y1="375.5" x2="756.5" y2="465.5" stroke="#000" stroke-width="1.3"/>
<line x1="784" y1="375.5" x2="784" y2="465.5" stroke="#000" stroke-width="1.3"/>
<line x1="825" y1="375.5" x2="825" y2="465.5" stroke="#000" stroke-width="1.3"/>
<line x1="10.8" y1="375.5" x2="825.6" y2="375.5" stroke="#000" stroke-width="1.3"/>
<line x1="10.8" y1="403" x2="825.6" y2="403" stroke="#000" stroke-width="1.3"/>
<line x1="10.8" y1="424" x2="825.6" y2="424" stroke="#000" stroke-width="1.3"/>
<line x1="10.8" y1="445" x2="825.6" y2="445" stroke="#000" stroke-width="1.3"/>
<line x1="10.8" y1="465.5" x2="825.6" y2="465.5" stroke="#000" stroke-width="1.3"/>
</svg>
<div class="c h" style="left:11.4px;top:375.5px;width:103.6px;height:27.5px;line-height:27.5px"><span class="hs">Rated Capacity</span></div>
<div class="c h" style="left:115px;top:375.5px;width:28.5px;height:27.5px;line-height:27.5px">A</div>
<div class="c h" style="left:143.5px;top:375.5px;width:28.5px;height:27.5px;line-height:27.5px">B</div>
<div class="c h" style="left:172px;top:375.5px;width:28.5px;height:27.5px;line-height:27.5px">C</div>
<div class="c h" style="left:200.5px;top:375.5px;width:28.5px;height:27.5px;line-height:27.5px">D</div>
<div class="c h" style="left:229px;top:375.5px;width:28px;height:27.5px;line-height:27.5px">E</div>
<div class="c h" style="left:257px;top:375.5px;width:28.5px;height:27.5px;line-height:27.5px">F</div>
<div class="c h" style="left:285.5px;top:375.5px;width:57.0px;height:27.5px;line-height:27.5px">G</div>
<div class="c h" style="left:342.5px;top:375.5px;width:20.5px;height:27.5px;line-height:27.5px">H</div>
<div class="c h" style="left:363px;top:375.5px;width:21px;height:27.5px;line-height:27.5px">J</div>
<div class="c h" style="left:384px;top:375.5px;width:30px;height:27.5px;line-height:27.5px">K</div>
<div class="c h" style="left:414px;top:375.5px;width:31px;height:27.5px;line-height:27.5px">L</div>
<div class="c h" style="left:445px;top:375.5px;width:58.5px;height:27.5px;line-height:27.5px">M</div>
<div class="c h" style="left:503.5px;top:375.5px;width:59.0px;height:27.5px;line-height:27.5px">N</div>
<div class="c h" style="left:562.5px;top:375.5px;width:24.5px;height:27.5px;line-height:27.5px">O</div>
<div class="c h" style="left:587px;top:375.5px;width:24px;height:27.5px;line-height:27.5px">P</div>
<div class="c h" style="left:611px;top:375.5px;width:32.5px;height:27.5px;line-height:27.5px">Q</div>
<div class="c h" style="left:643.5px;top:375.5px;width:27.0px;height:27.5px;line-height:27.5px">R</div>
<div class="c h" style="left:670.5px;top:375.5px;width:28.0px;height:27.5px;line-height:27.5px">S</div>
<div class="c h" style="left:698.5px;top:375.5px;width:29.5px;height:27.5px;line-height:27.5px">T</div>
<div class="c h" style="left:728px;top:375.5px;width:28.5px;height:27.5px;line-height:27.5px">U</div>
<div class="c h" style="left:756.5px;top:375.5px;width:27.5px;height:27.5px;line-height:27.5px">V</div>
<div class="c h w" style="left:784px;top:375.5px;width:41px;height:27.5px;line-height:27.5px">Weight<br>&nbsp;(kg)</div>
<div class="c l" style="left:11.4px;top:403px;width:103.6px;height:21px;line-height:21px"><span class="r1">1~5t<span class="sm">(9.81kN ~49.03kN)</span></span></div>
<div class="c" style="left:115px;top:403px;width:28.5px;height:21px;line-height:21px">118</div>
<div class="c" style="left:143.5px;top:403px;width:28.5px;height:21px;line-height:21px">46</div>
<div class="c" style="left:172px;top:403px;width:28.5px;height:21px;line-height:21px">86</div>
<div class="c" style="left:200.5px;top:403px;width:28.5px;height:21px;line-height:21px">34</div>
<div class="c" style="left:229px;top:403px;width:28px;height:21px;line-height:21px">100</div>
<div class="c" style="left:257px;top:403px;width:28.5px;height:21px;line-height:21px">153</div>
<div class="c" style="left:285.5px;top:403px;width:57.0px;height:21px;line-height:21px">M24x2P</div>
<div class="c" style="left:342.5px;top:403px;width:20.5px;height:21px;line-height:21px">9</div>
<div class="c" style="left:363px;top:403px;width:21px;height:21px;line-height:21px">12</div>
<div class="c" style="left:384px;top:403px;width:30px;height:21px;line-height:21px">130</div>
<div class="c" style="left:414px;top:403px;width:31px;height:21px;line-height:21px">106</div>
<div class="c" style="left:445px;top:403px;width:58.5px;height:21px;line-height:21px">185 x105</div>
<div class="c" style="left:503.5px;top:403px;width:59.0px;height:21px;line-height:21px">210 x130</div>
<div class="c" style="left:562.5px;top:403px;width:24.5px;height:21px;line-height:21px">23</div>
<div class="c" style="left:587px;top:403px;width:24px;height:21px;line-height:21px">14</div>
<div class="c" style="left:611px;top:403px;width:32.5px;height:21px;line-height:21px">106</div>
<div class="c" style="left:643.5px;top:403px;width:27.0px;height:21px;line-height:21px">32</div>
<div class="c" style="left:670.5px;top:403px;width:28.0px;height:21px;line-height:21px">55</div>
<div class="c" style="left:698.5px;top:403px;width:29.5px;height:21px;line-height:21px">248</div>
<div class="c" style="left:728px;top:403px;width:28.5px;height:21px;line-height:21px">28</div>
<div class="c" style="left:756.5px;top:403px;width:27.5px;height:21px;line-height:21px">22</div>
<div class="c" style="left:784px;top:403px;width:41px;height:21px;line-height:21px">4</div>
<div class="c l" style="left:11.4px;top:424px;width:103.6px;height:21px;line-height:21px">10t (98.07 kN)</div>
<div class="c" style="left:115px;top:424px;width:28.5px;height:21px;line-height:21px">138</div>
<div class="c" style="left:143.5px;top:424px;width:28.5px;height:21px;line-height:21px">60</div>
<div class="c" style="left:172px;top:424px;width:28.5px;height:21px;line-height:21px">98</div>
<div class="c" style="left:200.5px;top:424px;width:28.5px;height:21px;line-height:21px">50</div>
<div class="c" style="left:229px;top:424px;width:28px;height:21px;line-height:21px">116</div>
<div class="c" style="left:257px;top:424px;width:28.5px;height:21px;line-height:21px">180</div>
<div class="c" style="left:285.5px;top:424px;width:57.0px;height:21px;line-height:21px">M39x2P</div>
<div class="c" style="left:342.5px;top:424px;width:20.5px;height:21px;line-height:21px">11</div>
<div class="c" style="left:363px;top:424px;width:21px;height:21px;line-height:21px">14</div>
<div class="c" style="left:384px;top:424px;width:30px;height:21px;line-height:21px">160</div>
<div class="c" style="left:414px;top:424px;width:31px;height:21px;line-height:21px">126</div>
<div class="c" style="left:445px;top:424px;width:58.5px;height:21px;line-height:21px">125 x125</div>
<div class="c" style="left:503.5px;top:424px;width:59.0px;height:21px;line-height:21px">160 x160</div>
<div class="c" style="left:562.5px;top:424px;width:24.5px;height:21px;line-height:21px">30</div>
<div class="c" style="left:587px;top:424px;width:24px;height:21px;line-height:21px">20</div>
<div class="c" style="left:611px;top:424px;width:32.5px;height:21px;line-height:21px">140</div>
<div class="c" style="left:643.5px;top:424px;width:27.0px;height:21px;line-height:21px">45</div>
<div class="c" style="left:670.5px;top:424px;width:28.0px;height:21px;line-height:21px">125</div>
<div class="c" style="left:698.5px;top:424px;width:29.5px;height:21px;line-height:21px">355</div>
<div class="c" style="left:728px;top:424px;width:28.5px;height:21px;line-height:21px">43</div>
<div class="c" style="left:756.5px;top:424px;width:27.5px;height:21px;line-height:21px">40</div>
<div class="c" style="left:784px;top:424px;width:41px;height:21px;line-height:21px">6</div>
<div class="c l" style="left:11.4px;top:445px;width:103.6px;height:20.5px;line-height:20.5px">20t (196.1 kN)</div>
<div class="c" style="left:115px;top:445px;width:28.5px;height:20.5px;line-height:20.5px">186</div>
<div class="c" style="left:143.5px;top:445px;width:28.5px;height:20.5px;line-height:20.5px">70</div>
<div class="c" style="left:172px;top:445px;width:28.5px;height:20.5px;line-height:20.5px">133</div>
<div class="c" style="left:200.5px;top:445px;width:28.5px;height:20.5px;line-height:20.5px">73</div>
<div class="c" style="left:229px;top:445px;width:28px;height:20.5px;line-height:20.5px">154</div>
<div class="c" style="left:257px;top:445px;width:28.5px;height:20.5px;line-height:20.5px">228</div>
<div class="c" style="left:285.5px;top:445px;width:57.0px;height:20.5px;line-height:20.5px">M50x2P</div>
<div class="c" style="left:342.5px;top:445px;width:20.5px;height:20.5px;line-height:20.5px">14</div>
<div class="c" style="left:363px;top:445px;width:21px;height:20.5px;line-height:20.5px">14</div>
<div class="c" style="left:384px;top:445px;width:30px;height:20.5px;line-height:20.5px">200</div>
<div class="c" style="left:414px;top:445px;width:31px;height:20.5px;line-height:20.5px">150</div>
<div class="c" style="left:445px;top:445px;width:58.5px;height:20.5px;line-height:20.5px">160 x160</div>
<div class="c" style="left:503.5px;top:445px;width:59.0px;height:20.5px;line-height:20.5px">200 x200</div>
<div class="c" style="left:562.5px;top:445px;width:24.5px;height:20.5px;line-height:20.5px">30</div>
<div class="c" style="left:587px;top:445px;width:24px;height:20.5px;line-height:20.5px">40</div>
<div class="c" style="left:611px;top:445px;width:32.5px;height:20.5px;line-height:20.5px">170</div>
<div class="c" style="left:643.5px;top:445px;width:27.0px;height:20.5px;line-height:20.5px">-</div>
<div class="c" style="left:670.5px;top:445px;width:28.0px;height:20.5px;line-height:20.5px">-</div>
<div class="c" style="left:698.5px;top:445px;width:29.5px;height:20.5px;line-height:20.5px">-</div>
<div class="c" style="left:728px;top:445px;width:28.5px;height:20.5px;line-height:20.5px">-</div>
<div class="c" style="left:756.5px;top:445px;width:27.5px;height:20.5px;line-height:20.5px">-</div>
<div class="c" style="left:784px;top:445px;width:41px;height:20.5px;line-height:20.5px">12</div>
</body></html>
